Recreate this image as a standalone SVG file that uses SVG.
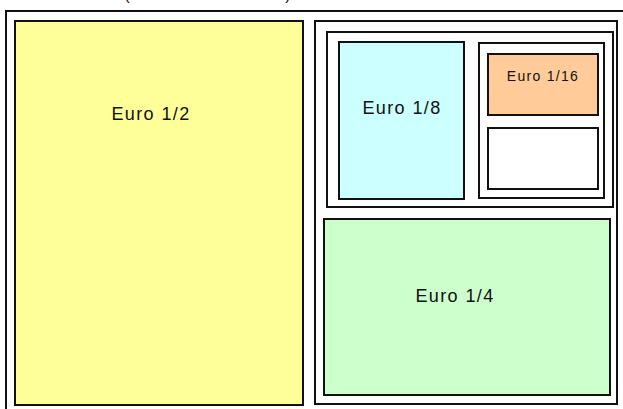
<svg xmlns="http://www.w3.org/2000/svg" width="623" height="409" viewBox="0 0 623 409">
<style>
.f{fill:none;stroke:#111;stroke-width:2}
.b{stroke:#111;stroke-width:2}
text{font-family:"Liberation Sans",Arial,sans-serif;fill:#111;text-anchor:middle}
.l{font-size:18px;letter-spacing:1.4px}
.s{font-size:14px;letter-spacing:1.3px}
</style>
<rect width="623" height="409" fill="#fff"/>
<text x="127" y="0" font-size="16">(</text>
<text x="288" y="0" font-size="16">)</text>
<g id="outer"><rect class="f" x="6" y="11" width="640" height="420"/></g>
<g id="half"><rect class="b" x="15" y="21" width="288" height="384" fill="#FFFF99"/><text class="l" x="151" y="120">Euro 1/2</text></g>
<g id="rightframe"><rect class="f" x="315" y="21" width="302" height="383"/></g>
<g id="topframe"><rect class="f" x="327" y="32" width="286" height="175"/></g>
<g id="eighth"><rect class="b" x="339" y="42" width="125" height="157" fill="#CCFFFF"/><text class="l" x="402" y="114">Euro 1/8</text></g>
<g id="colframe"><rect class="f" x="479" y="43" width="125" height="155"/></g>
<g id="sixteenth"><rect class="b" x="488" y="54" width="110" height="61" fill="#FFCC99"/><text class="s" x="543" y="81">Euro 1/16</text></g>
<g id="blank"><rect class="b" x="488" y="128" width="110" height="61" fill="#fff"/></g>
<g id="quarter"><rect class="b" x="324" y="219" width="286" height="176" fill="#CCFFCC"/><text class="l" x="455" y="302">Euro 1/4</text></g>
<g id="connectors"/>
</svg>
